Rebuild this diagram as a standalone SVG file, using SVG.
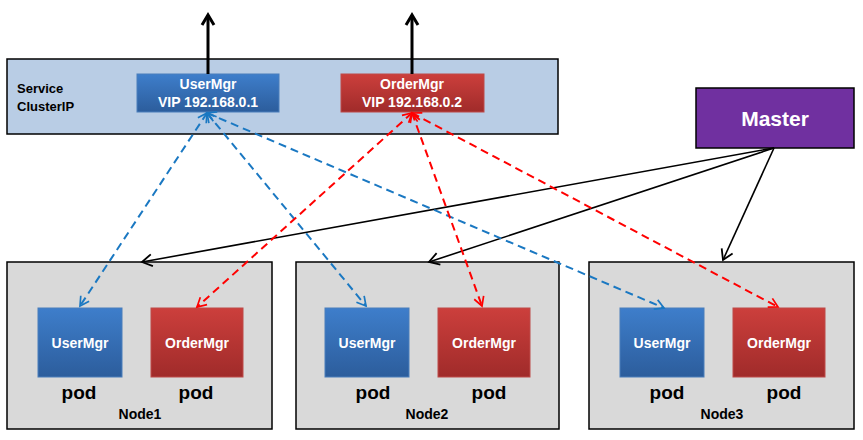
<svg xmlns="http://www.w3.org/2000/svg" width="863" height="440" viewBox="0 0 863 440">
<style>
text{font-family:"Liberation Sans",Arial,sans-serif;font-weight:bold;text-anchor:middle}
.node{fill:#d9d9d9;stroke:#000;stroke-width:1.5}
.svc{fill:#b9cde5;stroke:#000;stroke-width:1.5}
.blue{fill:url(#gb);stroke:#4a7ebb;stroke-width:1}
.red{fill:url(#gr);stroke:#be4b48;stroke-width:1}
.w{fill:#fff}
.k{fill:#000}
.pod{font-size:19px}
.lbl{font-size:14px}
.pn{font-size:14px}
.ml{stroke:#000;stroke-width:1.6;fill:none;marker-end:url(#ak)}
.db{stroke:#1a78c2;stroke-width:2;fill:none;stroke-dasharray:8 5;marker-start:url(#ab);marker-end:url(#ab)}
.dr{stroke:#ff0000;stroke-width:2;fill:none;stroke-dasharray:8 5;marker-start:url(#ar);marker-end:url(#ar)}
.up{stroke:#000;stroke-width:3;fill:none;marker-end:url(#au)}
</style>
<defs>
<linearGradient id="gb" x1="0" y1="0" x2="0" y2="1"><stop offset="0" stop-color="#3e7ecb"/><stop offset="1" stop-color="#2c5d9c"/></linearGradient>
<linearGradient id="gr" x1="0" y1="0" x2="0" y2="1"><stop offset="0" stop-color="#cc3f3c"/><stop offset="1" stop-color="#a02b2a"/></linearGradient>
<marker id="ak" markerUnits="userSpaceOnUse" markerWidth="16" markerHeight="16" refX="12" refY="6" orient="auto-start-reverse" viewBox="0 0 16 12"><path d="M2,0 L12,6 L2,12" fill="none" stroke="#000" stroke-width="1.8"/></marker>
<marker id="ab" markerUnits="userSpaceOnUse" markerWidth="14" markerHeight="14" refX="11" refY="6" orient="auto-start-reverse" viewBox="0 0 14 12"><path d="M2,1 L11,6 L2,11" fill="none" stroke="#1a78c2" stroke-width="1.7"/></marker>
<marker id="ar" markerUnits="userSpaceOnUse" markerWidth="14" markerHeight="14" refX="11" refY="6" orient="auto-start-reverse" viewBox="0 0 14 12"><path d="M2,1 L11,6 L2,11" fill="none" stroke="#ff0000" stroke-width="1.7"/></marker>
<marker id="au" markerUnits="userSpaceOnUse" markerWidth="16" markerHeight="16" refX="12" refY="7" orient="auto" viewBox="0 0 16 14"><path d="M2,1 L12,7 L2,13" fill="none" stroke="#000" stroke-width="3"/></marker>
</defs>

<g id="service">
<rect class="svc" x="7" y="59" width="551" height="75"/>
<text x="17" y="93" style="text-anchor:start;font-size:13px" class="k">Service</text>
<text x="17" y="111" style="text-anchor:start;font-size:13px" class="k">ClusterIP</text>
</g>
<g id="vip-usermgr">
<rect class="blue" x="137" y="74" width="142" height="38"/>
<text x="208" y="89" class="w" style="font-size:14px">UserMgr</text>
<text x="208" y="107" class="w" style="font-size:14px">VIP 192.168.0.1</text>
</g>
<g id="vip-ordermgr">
<rect class="red" x="341" y="74" width="143" height="38"/>
<text x="412" y="89" class="w" style="font-size:14px">OrderMgr</text>
<text x="412" y="107" class="w" style="font-size:14px">VIP 192.168.0.2</text>
</g>
<g id="master">
<rect x="696" y="88" width="158" height="60" fill="#7030a0" stroke="#000" stroke-width="1.5"/>
<text x="775" y="126" class="w" style="font-size:21px">Master</text>
</g>
<g id="node1">
<rect class="node" x="7" y="262" width="265" height="167"/>
<rect class="blue" x="38" y="308" width="84" height="69"/>
<text x="80" y="348" class="w pn">UserMgr</text>
<rect class="red" x="151" y="308" width="92" height="69"/>
<text x="197" y="348" class="w pn">OrderMgr</text>
<text x="79" y="399" class="k pod">pod</text>
<text x="196" y="399" class="k pod">pod</text>
<text x="140" y="419" class="k lbl">Node1</text>
</g>
<g id="node2">
<rect class="node" x="296" y="262" width="263" height="167"/>
<rect class="blue" x="325" y="308" width="84" height="69"/>
<text x="367" y="348" class="w pn">UserMgr</text>
<rect class="red" x="438" y="308" width="92" height="69"/>
<text x="484" y="348" class="w pn">OrderMgr</text>
<text x="373" y="399" class="k pod">pod</text>
<text x="489" y="399" class="k pod">pod</text>
<text x="427" y="419" class="k lbl">Node2</text>
</g>
<g id="node3">
<rect class="node" x="589" y="262" width="265" height="167"/>
<rect class="blue" x="620" y="308" width="84" height="69"/>
<text x="662" y="348" class="w pn">UserMgr</text>
<rect class="red" x="733" y="308" width="92" height="69"/>
<text x="779" y="348" class="w pn">OrderMgr</text>
<text x="667" y="399" class="k pod">pod</text>
<text x="784" y="399" class="k pod">pod</text>
<text x="722" y="419" class="k lbl">Node3</text>
</g>

<g id="connectors">
<line class="up" x1="208" y1="74" x2="208" y2="15"/>
<line class="up" x1="412" y1="74" x2="412" y2="15"/>
<line class="ml" x1="774" y1="148" x2="142" y2="262"/>
<line class="ml" x1="774" y1="148" x2="429" y2="262"/>
<line class="ml" x1="774" y1="148" x2="723" y2="260"/>
<line class="db" x1="207" y1="113" x2="80" y2="306"/>
<line class="db" x1="207" y1="113" x2="366" y2="306"/>
<line class="db" x1="207" y1="113" x2="664" y2="308"/>
<line class="dr" x1="412" y1="113" x2="197" y2="307"/>
<line class="dr" x1="412" y1="113" x2="482" y2="306"/>
<line class="dr" x1="412" y1="113" x2="778" y2="307"/>
</g>
</svg>
